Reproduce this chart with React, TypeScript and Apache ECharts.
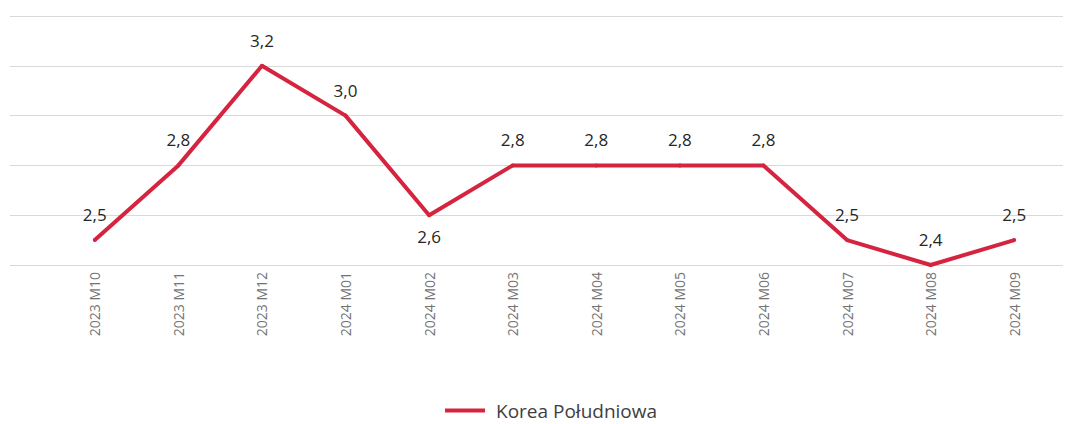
import React, { useEffect, useRef } from "react";
import * as echarts from "echarts";

const categories = [
  "2023 M10", "2023 M11", "2023 M12", "2024 M01", "2024 M02", "2024 M03",
  "2024 M04", "2024 M05", "2024 M06", "2024 M07", "2024 M08", "2024 M09",
];
const values = [2.5, 2.8, 3.2, 3.0, 2.6, 2.8, 2.8, 2.8, 2.8, 2.5, 2.4, 2.5];
const labelBelow = ["2024 M02"];
const seriesName = "Korea Południowa";

const FONT = "'Open Sans', 'Noto Sans', sans-serif";
const RED = "#D5243F";

export default function App() {
  const ref = useRef<HTMLDivElement>(null);
  useEffect(() => {
    if (!ref.current) return;
    const chart = echarts.init(ref.current, undefined, { renderer: "svg" });
    chart.setOption({
      animation: false,
      backgroundColor: "#ffffff",
      textStyle: { fontFamily: FONT },
      grid: [
        { left: 53, right: 27, top: 16, bottom: 159, containLabel: false },
        { left: 10, right: 20, top: 16, bottom: 159, containLabel: false },
      ],
      legend: {
        data: [seriesName],
        top: 401,
        left: 445,
        padding: 0,
        icon: "rect",
        itemWidth: 40,
        itemHeight: 4,
        itemGap: 8,
        textStyle: { fontFamily: FONT, fontSize: 19, color: "#404040", padding: [0, 0, 0, 6] },
      },
      xAxis: [
        {
          type: "category",
          gridIndex: 0,
          data: categories,
          boundaryGap: true,
          axisLine: { show: false },
          axisTick: { show: false },
          axisLabel: {
            rotate: 90,
            margin: 7,
            color: "#737373",
            fontSize: 14,
            fontFamily: FONT,
          },
        },
        { type: "value", gridIndex: 1, show: false, min: 0, max: 1 },
      ],
      yAxis: [
        {
          type: "value",
          gridIndex: 0,
          min: 2.4,
          max: 3.4,
          interval: 0.2,
          show: false,
          splitLine: { show: false },
        },
        {
          type: "value",
          gridIndex: 1,
          min: 2.4,
          max: 3.4,
          interval: 0.2,
          axisLine: { show: false },
          axisTick: { show: false },
          axisLabel: { show: false },
          splitLine: { show: true, lineStyle: { color: "#d9d9d9", width: 1 } },
        },
      ],
      series: [
        {
          name: seriesName,
          type: "line",
          xAxisIndex: 0,
          yAxisIndex: 0,
          symbol: "circle",
          symbolSize: 4,
          showSymbol: true,
          lineStyle: { color: RED, width: 4 },
          itemStyle: { color: RED, borderWidth: 0 },
          label: {
            show: true,
            position: "top",
            distance: 15,
            fontSize: 17,
            fontFamily: FONT,
            color: "#262626",
            formatter: (p: any) => Number(p.value).toFixed(1).replace(".", ","),
          },
          data: values.map((v, i) =>
            labelBelow.includes(categories[i])
              ? { value: v, label: { position: "bottom", distance: 11 } }
              : v
          ),
        },
      ],
    });
    return () => chart.dispose();
  }, []);
  return (
    <div
      ref={ref}
      style={{ position: "absolute", left: 0, top: 0, width: 1083, height: 424 }}
    />
  );
}
